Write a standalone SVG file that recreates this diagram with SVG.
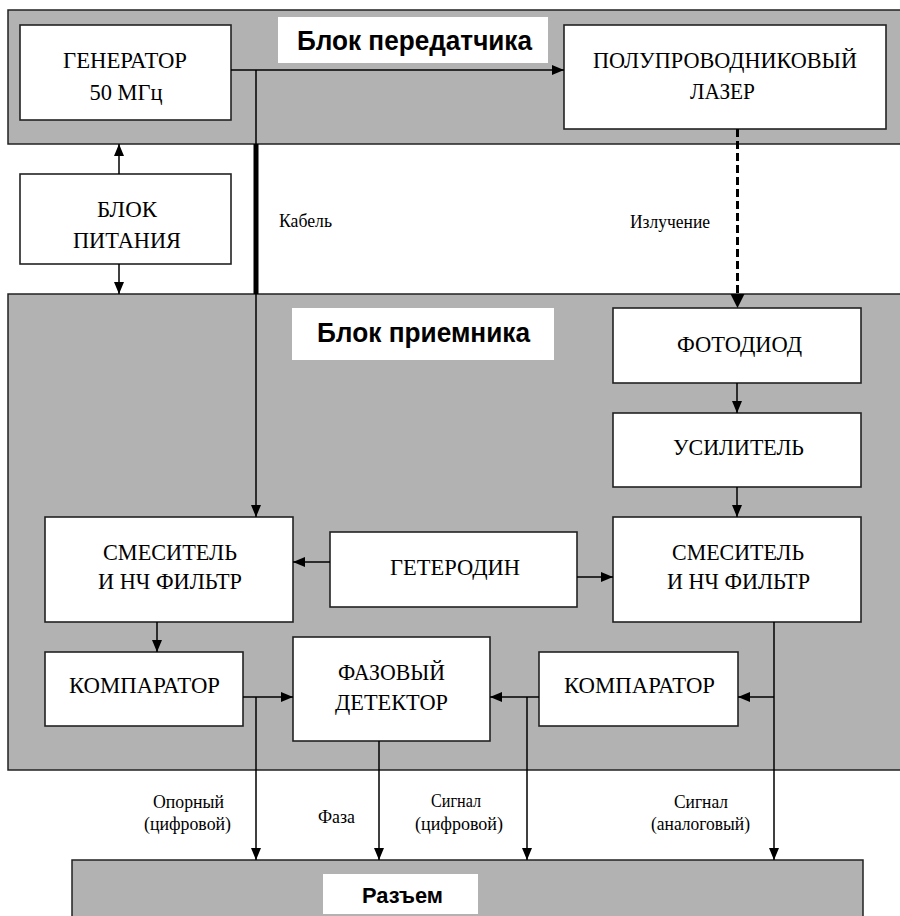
<svg xmlns="http://www.w3.org/2000/svg" width="900" height="916" viewBox="0 0 900 916">
<style>
.panel{fill:#b2b2b2;stroke:#222;stroke-width:1.5}
.box{fill:#fff;stroke:#222;stroke-width:1.6}
.tbox{fill:#fff;stroke:none}
.bt{font-family:"Liberation Serif","Times New Roman",serif;font-size:24px;fill:#000;text-anchor:middle}
.lt{font-family:"Liberation Serif","Times New Roman",serif;font-size:19px;fill:#000;text-anchor:middle}
.tt{font-family:"Liberation Sans",Arial,sans-serif;font-weight:bold;font-size:28px;fill:#000;text-anchor:middle}
.rt{font-family:"Liberation Sans",Arial,sans-serif;font-weight:bold;font-size:22px;fill:#000;text-anchor:middle}
.c{fill:none;stroke:#000;stroke-width:1.5}
</style>
<defs>
<marker id="ah" markerUnits="userSpaceOnUse" markerWidth="12" markerHeight="10" refX="12" refY="5" orient="auto">
<path d="M0,0 L12,5 L0,10 z" fill="#000"/>
</marker>
<marker id="ahb" markerUnits="userSpaceOnUse" markerWidth="14" markerHeight="12" refX="14" refY="6" orient="auto">
<path d="M0,0 L14,6 L0,12 z" fill="#000"/>
</marker>
</defs>

<g id="panel-transmitter">
<rect class="panel" x="8" y="10" width="896" height="134"/>
<rect class="tbox" x="278" y="17" width="270" height="46"/>
<text class="tt" x="414.5" y="50" textLength="235" lengthAdjust="spacingAndGlyphs">Блок передатчика</text>
</g>
<g id="panel-receiver">
<rect class="panel" x="8" y="294" width="896" height="476"/>
<rect class="tbox" x="292" y="308" width="262" height="52"/>
<text class="tt" x="423.5" y="342" textLength="213" lengthAdjust="spacingAndGlyphs">Блок приемника</text>
</g>
<g id="panel-connector">
<rect class="panel" x="72" y="860" width="791" height="70"/>
<rect class="tbox" x="323" y="874" width="155" height="40"/>
<text class="rt" x="402.5" y="903" textLength="81" lengthAdjust="spacingAndGlyphs">Разъем</text>
</g>

<g id="generator">
<rect class="box" x="20" y="25" width="211" height="95"/>
<text class="bt" x="125" y="68" textLength="124" lengthAdjust="spacingAndGlyphs">ГЕНЕРАТОР</text>
<text class="bt" x="126" y="100" textLength="73" lengthAdjust="spacingAndGlyphs">50 МГц</text>
</g>
<g id="laser">
<rect class="box" x="564" y="25" width="322" height="104"/>
<text class="bt" x="725" y="68" textLength="264" lengthAdjust="spacingAndGlyphs">ПОЛУПРОВОДНИКОВЫЙ</text>
<text class="bt" x="722.5" y="99" textLength="65" lengthAdjust="spacingAndGlyphs">ЛАЗЕР</text>
</g>
<g id="power">
<rect class="box" x="20" y="174" width="211" height="90"/>
<text class="bt" x="127" y="217" textLength="60" lengthAdjust="spacingAndGlyphs">БЛОК</text>
<text class="bt" x="127" y="248" textLength="108" lengthAdjust="spacingAndGlyphs">ПИТАНИЯ</text>
</g>
<g id="photodiode">
<rect class="box" x="613" y="308" width="248" height="75"/>
<text class="bt" x="739.5" y="352" textLength="125" lengthAdjust="spacingAndGlyphs">ФОТОДИОД</text>
</g>
<g id="amplifier">
<rect class="box" x="613" y="413" width="248" height="74"/>
<text class="bt" x="738.5" y="455" textLength="131" lengthAdjust="spacingAndGlyphs">УСИЛИТЕЛЬ</text>
</g>
<g id="mixer-right">
<rect class="box" x="613" y="517" width="248" height="105"/>
<text class="bt" x="738" y="560" textLength="132" lengthAdjust="spacingAndGlyphs">СМЕСИТЕЛЬ</text>
<text class="bt" x="738.5" y="589" textLength="143" lengthAdjust="spacingAndGlyphs">И НЧ ФИЛЬТР</text>
</g>
<g id="mixer-left">
<rect class="box" x="45" y="517" width="248" height="105"/>
<text class="bt" x="170" y="560" textLength="134" lengthAdjust="spacingAndGlyphs">СМЕСИТЕЛЬ</text>
<text class="bt" x="170" y="589" textLength="144" lengthAdjust="spacingAndGlyphs">И НЧ ФИЛЬТР</text>
</g>
<g id="heterodyne">
<rect class="box" x="330" y="532" width="247" height="75"/>
<text class="bt" x="455" y="575" textLength="130" lengthAdjust="spacingAndGlyphs">ГЕТЕРОДИН</text>
</g>
<g id="comparator-left">
<rect class="box" x="45" y="652" width="198" height="74"/>
<text class="bt" x="144.5" y="693" textLength="151" lengthAdjust="spacingAndGlyphs">КОМПАРАТОР</text>
</g>
<g id="phase-detector">
<rect class="box" x="293" y="637" width="197" height="104"/>
<text class="bt" x="391.5" y="680" textLength="107" lengthAdjust="spacingAndGlyphs">ФАЗОВЫЙ</text>
<text class="bt" x="391.5" y="710" textLength="113" lengthAdjust="spacingAndGlyphs">ДЕТЕКТОР</text>
</g>
<g id="comparator-right">
<rect class="box" x="539" y="652" width="199" height="74"/>
<text class="bt" x="639.5" y="693" textLength="151" lengthAdjust="spacingAndGlyphs">КОМПАРАТОР</text>
</g>

<g id="connectors">
<path class="c" d="M231,70 H564" marker-end="url(#ah)"/>
<path class="c" d="M256,70 V517" marker-end="url(#ah)"/>
<path d="M256,144 V294" stroke="#000" stroke-width="5" fill="none"/>
<path class="c" d="M119,174 V144" marker-end="url(#ah)"/>
<path class="c" d="M119,264 V294" marker-end="url(#ah)"/>
<path d="M737.5,129 V296" stroke="#000" stroke-width="3" stroke-dasharray="8,4" fill="none"/>
<path d="M730.5,294 L744.5,294 L737.5,308 z" fill="#000"/>
<path class="c" d="M737,383 V413" marker-end="url(#ah)"/>
<path class="c" d="M737,487 V517" marker-end="url(#ah)"/>
<path class="c" d="M330,562 H293" marker-end="url(#ah)"/>
<path class="c" d="M577,577 H613" marker-end="url(#ah)"/>
<path class="c" d="M157,622 V652" marker-end="url(#ah)"/>
<path class="c" d="M243,697 H293" marker-end="url(#ah)"/>
<path class="c" d="M256,697 V860" marker-end="url(#ah)"/>
<path class="c" d="M379,741 V860" marker-end="url(#ah)"/>
<path class="c" d="M539,697 H490" marker-end="url(#ah)"/>
<path class="c" d="M527,697 V860" marker-end="url(#ah)"/>
<path class="c" d="M774,622 V860" marker-end="url(#ah)"/>
<path class="c" d="M774,697 H738" marker-end="url(#ah)"/>
</g>

<g id="labels">
<text class="lt" x="305.5" y="227" textLength="53" lengthAdjust="spacingAndGlyphs">Кабель</text>
<text class="lt" x="670" y="228" textLength="80" lengthAdjust="spacingAndGlyphs">Излучение</text>
<text class="lt" x="188.5" y="808" textLength="71" lengthAdjust="spacingAndGlyphs">Опорный</text>
<text class="lt" x="187.5" y="830" textLength="87" lengthAdjust="spacingAndGlyphs">(цифровой)</text>
<text class="lt" x="336.5" y="823" textLength="37" lengthAdjust="spacingAndGlyphs">Фаза</text>
<text class="lt" x="456" y="807" textLength="50" lengthAdjust="spacingAndGlyphs">Сигнал</text>
<text class="lt" x="459" y="830" textLength="88" lengthAdjust="spacingAndGlyphs">(цифровой)</text>
<text class="lt" x="701" y="808" textLength="54" lengthAdjust="spacingAndGlyphs">Сигнал</text>
<text class="lt" x="700.5" y="830" textLength="99" lengthAdjust="spacingAndGlyphs">(аналоговый)</text>
</g>
</svg>
